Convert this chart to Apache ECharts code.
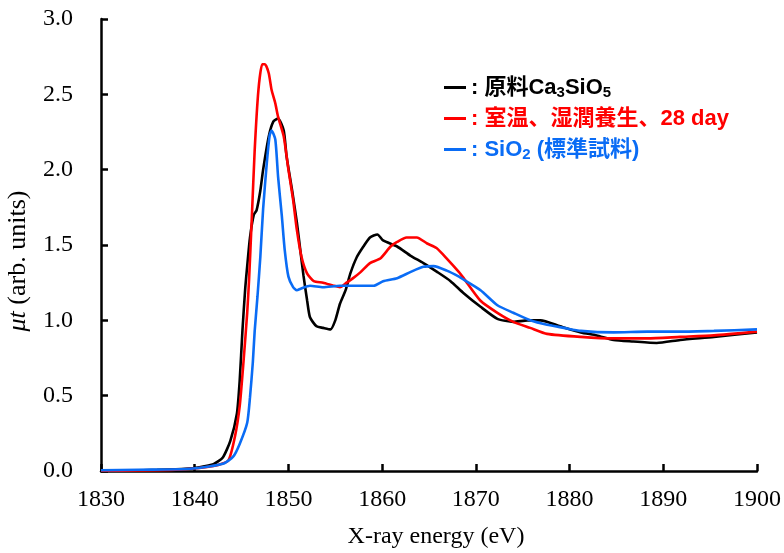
<!DOCTYPE html>
<html>
<head>
<meta charset="utf-8">
<script src="https://cdn.jsdelivr.net/npm/echarts@6/dist/echarts.min.js"></script>
<style>html,body{margin:0;padding:0;background:#fff}#c{width:784px;height:553px}</style>
</head>
<body>
<div id="c"></div>
<script>
// ---- data ----
const seriesNames = ['原料Ca3SiO5', '室温、湿潤養生、28 day', 'SiO2（標準試料）'];
const xTicks = [1830, 1840, 1850, 1860, 1870, 1880, 1890, 1900];
const yTicks = [0.0, 0.5, 1.0, 1.5, 2.0, 2.5, 3.0];

const blackE = [1830,1833,1836,1839,1840.5,1842,1843,1843.8,1844.5,1844.8,1845.1,1845.4,1845.6,1845.9,1846.3,1846.6,1847.0,1847.3,1847.9,1848.4,1848.9,1849.5,1849.8,1850.4,1850.9,1851.3,1851.6,1852.0,1852.3,1853.0,1853.7,1854.5,1855.0,1855.5,1856.1,1856.6,1857.3,1858.0,1858.7,1859.5,1860.1,1861.6,1863.0,1864.4,1865.9,1867.3,1868.7,1870.5,1872.3,1874.0,1875.5,1876.9,1879.0,1881.2,1882.9,1884.7,1886.8,1889.3,1891.8,1895.4,1900];
const blackMu = [0.0,0.003,0.008,0.015,0.025,0.045,0.09,0.2,0.38,0.6,0.94,1.22,1.36,1.55,1.70,1.73,1.86,2.0,2.22,2.32,2.34,2.26,2.09,1.86,1.65,1.45,1.30,1.13,1.02,0.96,0.95,0.94,1.00,1.11,1.20,1.31,1.42,1.49,1.55,1.57,1.53,1.49,1.43,1.38,1.32,1.26,1.18,1.09,1.01,0.99,1.00,1.00,0.96,0.92,0.90,0.87,0.86,0.85,0.87,0.89,0.92];

const redE = [1830,1834,1838,1840.5,1842.5,1843.6,1844.3,1844.8,1845.2,1845.6,1845.8,1846.1,1846.4,1846.8,1847.2,1847.5,1847.9,1848.2,1848.6,1848.9,1849.5,1850.0,1850.5,1850.9,1851.4,1852.0,1852.7,1853.7,1854.8,1855.5,1856.2,1856.9,1857.7,1858.7,1859.8,1860.9,1861.6,1862.6,1863.7,1864.8,1865.8,1866.9,1868.2,1868.7,1870.5,1872.3,1874.0,1875.8,1877.6,1881.2,1884.7,1888.3,1891.8,1895.4,1900];
const redMu = [0.0,0.003,0.008,0.02,0.04,0.07,0.23,0.43,0.72,1.05,1.27,1.69,2.13,2.53,2.70,2.70,2.64,2.53,2.44,2.35,2.22,2.00,1.80,1.60,1.42,1.31,1.26,1.25,1.23,1.22,1.25,1.28,1.32,1.38,1.41,1.49,1.52,1.55,1.55,1.51,1.48,1.41,1.32,1.28,1.13,1.05,0.99,0.95,0.91,0.89,0.88,0.88,0.89,0.90,0.925];

const blueE = [1830,1834,1837,1839.5,1841.5,1843.1,1844.1,1844.8,1845.6,1845.9,1846.2,1846.4,1846.7,1847.0,1847.3,1847.7,1848.0,1848.2,1848.6,1848.9,1849.3,1849.6,1850.0,1850.5,1850.9,1851.3,1852.3,1853.7,1855.5,1857.3,1859.1,1860.1,1861.6,1863.0,1864.4,1865.5,1866.9,1868.2,1868.7,1870.5,1872.3,1874.0,1875.8,1877.6,1879.4,1881.2,1884.7,1888.3,1891.8,1895.4,1900];
const blueMu = [0.005,0.008,0.01,0.015,0.03,0.05,0.095,0.18,0.32,0.49,0.72,0.93,1.16,1.42,1.74,2.05,2.23,2.26,2.20,1.95,1.69,1.47,1.29,1.22,1.20,1.21,1.23,1.22,1.23,1.23,1.23,1.26,1.28,1.32,1.355,1.36,1.33,1.29,1.27,1.20,1.10,1.05,1.00,0.97,0.95,0.93,0.92,0.925,0.925,0.93,0.94];
// --------------------------------------

const colors = ['#000000', '#ff0000', '#0a6cf5'];
const pair = (e, m) => e.map((v, i) => [v, m[i]]);
const serif = '"Liberation Serif", "Times New Roman", serif';
const sans = '"Liberation Sans", Arial, "Noto Sans CJK JP", sans-serif';

const chart = echarts.init(document.getElementById('c'), null, {renderer: 'canvas'});
const legendLabels = {
  [seriesNames[0]]: ': 原料Ca{s|3}SiO{s|5}',
  [seriesNames[1]]: ': 室温、湿潤養生、28 day',
  [seriesNames[2]]: ': SiO{s|2} (標準試料)'
};
chart.setOption({
  animation: false,
  backgroundColor: '#fff',
  grid: {left: 101, right: 27, top: 19, bottom: 82, containLabel: false, outerBoundsMode: 'none'},
  legend: {
    orient: 'vertical',
    left: 439,
    top: 70,
    itemWidth: 22,
    itemHeight: 3,
    itemGap: 6,
    icon: 'rect',
    data: seriesNames.map((n, i) => ({name: n, textStyle: {color: colors[i]}})),
    formatter: n => legendLabels[n],
    textStyle: {
      fontFamily: sans, fontWeight: 'bold', fontSize: 22, lineHeight: 25,
      rich: {s: {fontFamily: sans, fontWeight: 'bold', fontSize: 15, verticalAlign: 'bottom', lineHeight: 16}}
    }
  },
  xAxis: {
    type: 'value', min: xTicks[0], max: xTicks[xTicks.length - 1], interval: 10,
    name: 'X-ray energy (eV)', nameLocation: 'middle', nameGap: 54,
    nameTextStyle: {fontFamily: serif, fontSize: 24, color: '#000', padding: [0, 0, 0, 14]},
    axisLine: {show: true, lineStyle: {color: '#000', width: 2.5}},
    axisTick: {show: true, inside: true, length: 7, lineStyle: {color: '#000', width: 2.5}},
    axisLabel: {fontFamily: serif, fontSize: 24, color: '#000', margin: 17, formatter: v => String(v)},
    splitLine: {show: false}
  },
  yAxis: {
    type: 'value', min: yTicks[0], max: yTicks[yTicks.length - 1], interval: 0.5,
    name: '{it|μt} (arb. units)', nameLocation: 'middle', nameGap: 70, nameRotate: 90,
    nameTextStyle: {fontFamily: serif, fontSize: 26, color: '#000', padding: [0, 32, 0, 0],
      rich: {it: {fontFamily: serif, fontSize: 26, fontStyle: 'italic', color: '#000'}}},
    axisLine: {show: true, lineStyle: {color: '#000', width: 2.5}},
    axisTick: {show: true, inside: true, length: 7, lineStyle: {color: '#000', width: 2.5}},
    axisLabel: {fontFamily: serif, fontSize: 24, color: '#000', margin: 28, formatter: v => v.toFixed(1)},
    splitLine: {show: false}
  },
  series: [
    {name: seriesNames[0], type: 'line', data: pair(blackE, blackMu), color: colors[0]},
    {name: seriesNames[1], type: 'line', data: pair(redE, redMu), color: colors[1]},
    {name: seriesNames[2], type: 'line', data: pair(blueE, blueMu), color: colors[2]}
  ].map(s => Object.assign(s, {showSymbol: false, symbol: 'none', smooth: 0.2, lineStyle: {width: 2.6, color: s.color}}))
});
</script>
</body>
</html>
